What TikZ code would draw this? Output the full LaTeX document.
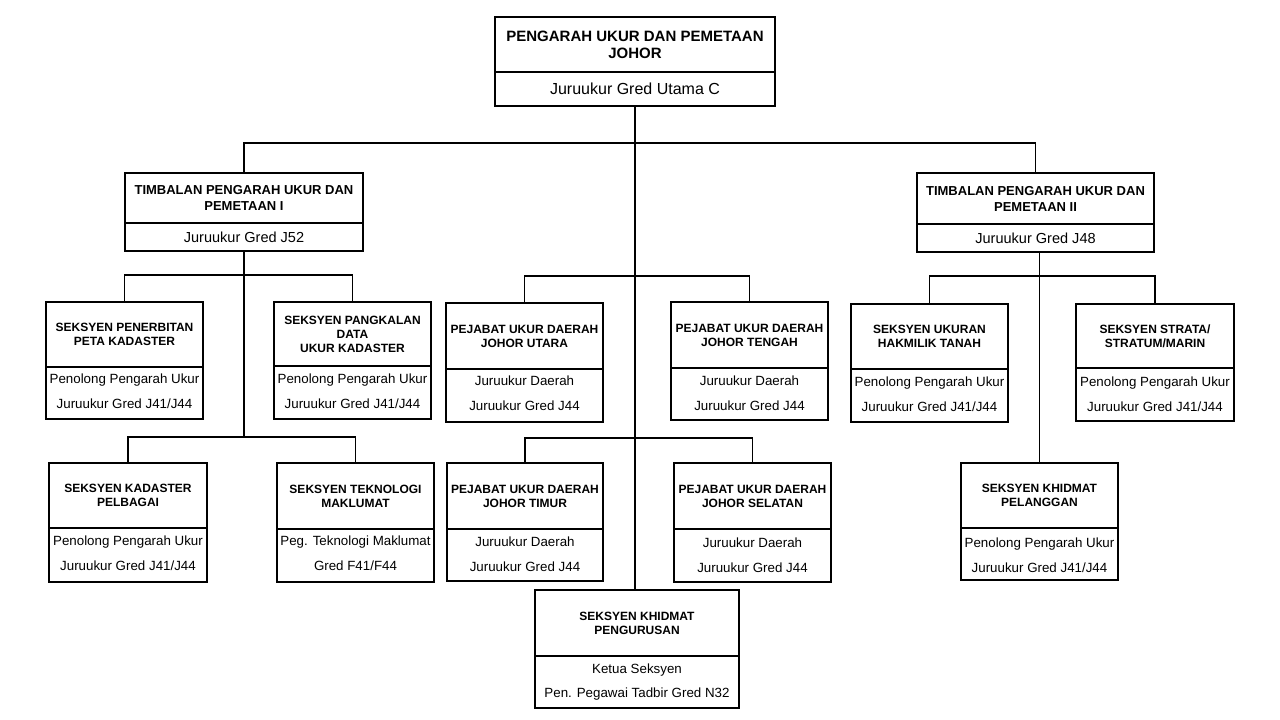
\documentclass[tikz,border=0pt]{standalone}
\usepackage{fontspec}
\setmainfont{Liberation Sans}
\usetikzlibrary{fit}
\tikzset{
  boxfit/.style={draw=black, line width=1pt, inner sep=0pt},
  divider/.style={draw=black, line width=1.1pt},
  conn/.style={draw=black, line width=0.8pt},
  toptitle/.style={font=\fontsize{11.25}{12.75}\selectfont\bfseries, align=center, inner sep=0pt},
  tptitle/.style={font=\fontsize{9.75}{12}\selectfont\bfseries, align=center, inner sep=0pt},
  sectitle/.style={font=\fontsize{9}{10.5}\selectfont\bfseries, align=center, inner sep=0pt},
  subtext/.style={font=\fontsize{10}{18.5}\selectfont, align=center, inner sep=0pt},
  topsub/.style={font=\fontsize{12}{14}\selectfont, align=center, inner sep=0pt},
  tpsub/.style={font=\fontsize{10.9}{13}\selectfont, align=center, inner sep=0pt}
}
\newcommand{\obox}[9]{%
  \node[boxfit, fit={(#2,#3) (#4,#5)}] (#1) {};
  \draw[divider] (#2,#6) -- (#4,#6);
  \node[#9] (#1-t) at ({(#2+#4)/2},{(#3+#6)/2}) {#7};
}
\newcommand{\osub}[6]{%
  \node[#6] (#1-s) at ({(#2+#4)/2},{(#3+#5)/2}) {#1};
}
\begin{document}
\begin{tikzpicture}[x=0.75pt, y=-0.75pt]
\useasboundingbox (0,0) rectangle (1280,720);
\fill[white] (0,0) rectangle (1280,720);

% top
\obox{top}{495}{17}{775}{106}{72}{PENGARAH UKUR DAN PEMETAAN\\JOHOR}{}{toptitle}
\node[topsub] (top-s) at (635,89) {Juruukur Gred Utama C};

% deputies
\obox{tpa}{125}{173}{363}{251}{223}{TIMBALAN PENGARAH UKUR DAN\\PEMETAAN I}{}{tptitle}
\node[tpsub] (tpa-s) at (244,237.5) {Juruukur Gred J52};
\obox{tpb}{917}{173}{1154}{252}{224}{TIMBALAN PENGARAH UKUR DAN\\PEMETAAN II}{}{tptitle}
\node[tpsub] (tpb-s) at (1035.5,238.5) {Juruukur Gred J48};

% left sections
\obox{spk}{46}{302}{203}{419}{367}{SEKSYEN PENERBITAN\\PETA KADASTER}{}{sectitle}
\node[subtext] (spk-s) at (124.5,391.5) {Penolong Pengarah Ukur\\Juruukur Gred J41/J44};
\obox{spd}{274}{302}{431}{419}{366}{SEKSYEN PANGKALAN\\DATA\\UKUR KADASTER}{}{sectitle}
\node[subtext] (spd-s) at (352.5,391.5) {Penolong Pengarah Ukur\\Juruukur Gred J41/J44};
\obox{skp}{49}{463}{207}{582}{528}{SEKSYEN KADASTER\\PELBAGAI}{}{sectitle}
\node[subtext] (skp-s) at (128,553) {Penolong Pengarah Ukur\\Juruukur Gred J41/J44};
\obox{stm}{277}{463}{434}{582}{529}{SEKSYEN TEKNOLOGI\\MAKLUMAT}{}{sectitle}
\node[subtext] (stm-s) at (355.5,553) {Peg. Teknologi Maklumat\\Gred F41/F44};

% middle offices
\obox{put}{446}{303}{603}{422}{369}{PEJABAT UKUR DAERAH\\JOHOR UTARA}{}{sectitle}
\node[subtext] (put-s) at (524.5,393) {Juruukur Daerah\\Juruukur Gred J44};
\obox{ptg}{671}{302}{828}{420}{368}{PEJABAT UKUR DAERAH\\JOHOR TENGAH}{}{sectitle}
\node[subtext] (ptg-s) at (749.5,393) {Juruukur Daerah\\Juruukur Gred J44};
\obox{ptm}{447}{463}{603}{581}{529}{PEJABAT UKUR DAERAH\\JOHOR TIMUR}{}{sectitle}
\node[subtext] (ptm-s) at (525,554) {Juruukur Daerah\\Juruukur Gred J44};
\obox{psl}{674}{463}{831}{582}{529}{PEJABAT UKUR DAERAH\\JOHOR SELATAN}{}{sectitle}
\node[subtext] (psl-s) at (752.5,555) {Juruukur Daerah\\Juruukur Gred J44};
\obox{skg}{535}{590}{739}{708}{656}{SEKSYEN KHIDMAT\\PENGURUSAN}{}{sectitle}
\node[subtext] (skg-s) at (637,682) {Ketua Seksyen\\Pen. Pegawai Tadbir Gred N32};

% right sections
\obox{suh}{851}{304}{1008}{422}{369}{SEKSYEN UKURAN\\HAKMILIK TANAH}{}{sectitle}
\node[subtext] (suh-s) at (929.5,394) {Penolong Pengarah Ukur\\Juruukur Gred J41/J44};
\obox{sss}{1076}{304}{1234}{421}{368}{SEKSYEN STRATA/\\STRATUM/MARIN}{}{sectitle}
\node[subtext] (sss-s) at (1155,394) {Penolong Pengarah Ukur\\Juruukur Gred J41/J44};
\obox{skl}{961}{463}{1118}{580}{528}{SEKSYEN KHIDMAT\\PELANGGAN}{}{sectitle}
\node[subtext] (skl-s) at (1039.5,555) {Penolong Pengarah Ukur\\Juruukur Gred J41/J44};

% connector bars
\coordinate (b0) at (0,143);
\coordinate (ba1) at (0,275);
\coordinate (ba2) at (0,437);
\coordinate (bm1) at (0,276);
\coordinate (bm2) at (0,438);
\coordinate (bb1) at (0,276);

% top level
\draw[conn] (top.south) -- (top.south |- skg.north);
\draw[conn] (tpa.north) -- (tpa.north |- b0) -- (tpb.north |- b0) -- (tpb.north);

% left branch
\draw[conn] (tpa.south) -- (tpa.south |- ba2);
\draw[conn] (spk.north) -- (spk.north |- ba1) -- (spd.north |- ba1) -- (spd.north);
\draw[conn] (skp.north) -- (skp.north |- ba2) -- (stm.north |- ba2) -- (stm.north);

% middle branch
\draw[conn] (put.north) -- (put.north |- bm1) -- (ptg.north |- bm1) -- (ptg.north);
\draw[conn] (ptm.north) -- (ptm.north |- bm2) -- (psl.north |- bm2) -- (psl.north);

% right branch
\draw[conn] (skl.north |- tpb.south) -- (skl.north);
\draw[conn] (suh.north) -- (suh.north |- bb1) -- (sss.north |- bb1) -- (sss.north);
\end{tikzpicture}
\end{document}
